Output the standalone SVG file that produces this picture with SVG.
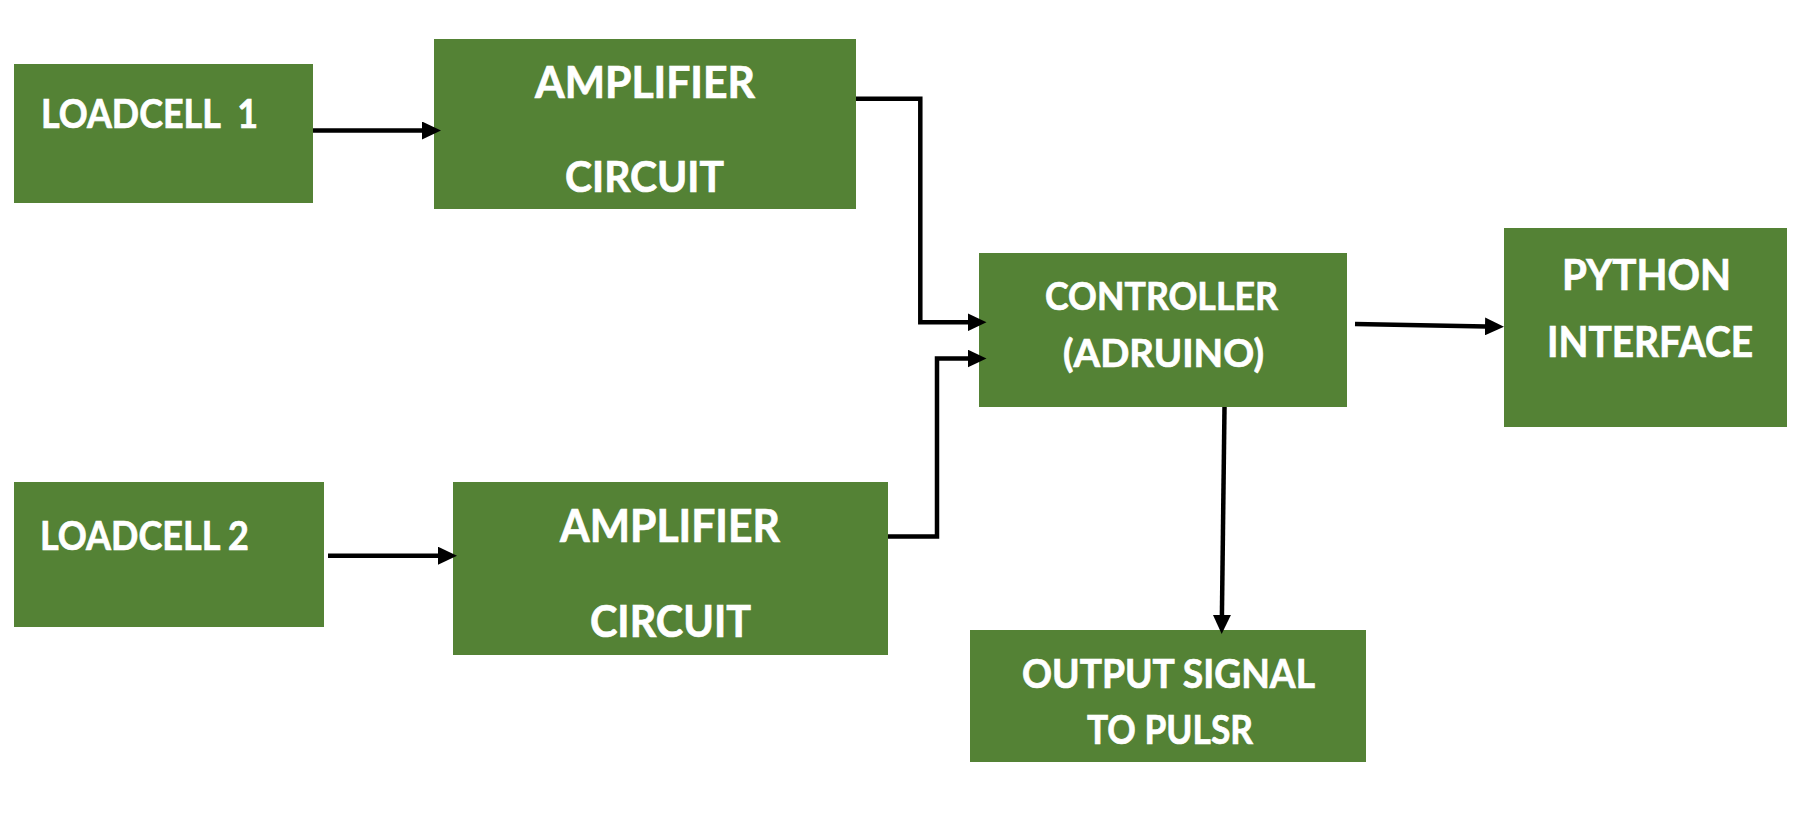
<svg xmlns="http://www.w3.org/2000/svg" width="1808" height="819" viewBox="0 0 1808 819">
<style>
.box{fill:#548235}
.t{fill:#ffffff;stroke:#ffffff;stroke-width:0.7;font-family:Lato,"Liberation Sans",sans-serif;font-weight:bold}
.c{fill:none;stroke:#000000;stroke-width:4.5;stroke-linejoin:miter}
</style>
<defs>
<marker id="ah" viewBox="0 0 19 18" refX="1" refY="9" markerWidth="19" markerHeight="18" markerUnits="userSpaceOnUse" orient="auto">
<path d="M0,0 L19,9 L0,18 z" fill="#000000"/>
</marker>
</defs>
<rect width="1808" height="819" fill="#ffffff"/>
<g id="loadcell1">
<rect class="box" x="14" y="64" width="299" height="139"/>
<text class="t" x="41" y="128.3" font-size="41" textLength="217" lengthAdjust="spacingAndGlyphs" xml:space="preserve">LOADCELL  1</text>
</g>
<g id="amplifier1">
<rect class="box" x="434" y="39" width="422" height="170"/>
<text class="t" x="535" y="98.3" font-size="43.5" textLength="220" lengthAdjust="spacingAndGlyphs">AMPLIFIER</text>
<text class="t" x="565" y="192" font-size="42.5" textLength="159" lengthAdjust="spacingAndGlyphs">CIRCUIT</text>
</g>
<g id="loadcell2">
<rect class="box" x="14" y="482" width="310" height="145"/>
<text class="t" x="40" y="550" font-size="41" textLength="209" lengthAdjust="spacingAndGlyphs">LOADCELL 2</text>
</g>
<g id="amplifier2">
<rect class="box" x="453" y="482" width="435" height="173"/>
<text class="t" x="560" y="541.7" font-size="45.5" textLength="220" lengthAdjust="spacingAndGlyphs">AMPLIFIER</text>
<text class="t" x="590" y="636.7" font-size="44.5" textLength="161" lengthAdjust="spacingAndGlyphs">CIRCUIT</text>
</g>
<g id="controller">
<rect class="box" x="979" y="253" width="368" height="154"/>
<text class="t" x="1045" y="310" font-size="38.5" textLength="233" lengthAdjust="spacingAndGlyphs">CONTROLLER</text>
<text class="t" x="1063" y="366.7" font-size="38.5" textLength="201" lengthAdjust="spacingAndGlyphs">(ADRUINO)</text>
</g>
<g id="python">
<rect class="box" x="1504" y="228" width="283" height="199"/>
<text class="t" x="1562" y="290" font-size="42.5" textLength="169" lengthAdjust="spacingAndGlyphs">PYTHON</text>
<text class="t" x="1547" y="357" font-size="41.5" textLength="206" lengthAdjust="spacingAndGlyphs">INTERFACE</text>
</g>
<g id="output">
<rect class="box" x="970" y="630" width="396" height="132"/>
<text class="t" x="1022" y="688" font-size="40.5" textLength="293" lengthAdjust="spacingAndGlyphs">OUTPUT SIGNAL</text>
<text class="t" x="1087" y="743.5" font-size="40.5" textLength="166" lengthAdjust="spacingAndGlyphs">TO PULSR</text>
</g>
<g id="connectors">
<path class="c" d="M313,130.5 H423" marker-end="url(#ah)"/>
<path class="c" d="M328,555.7 H439" marker-end="url(#ah)"/>
<path class="c" d="M856,98.7 H920.3 V322.3 H968.5" marker-end="url(#ah)"/>
<path class="c" d="M888,536.5 H937 V358.5 H968.5" marker-end="url(#ah)"/>
<path class="c" d="M1355,324 L1486,326.4" marker-end="url(#ah)"/>
<path class="c" d="M1224.5,407 L1221.9,616" marker-end="url(#ah)"/>
</g>
</svg>
